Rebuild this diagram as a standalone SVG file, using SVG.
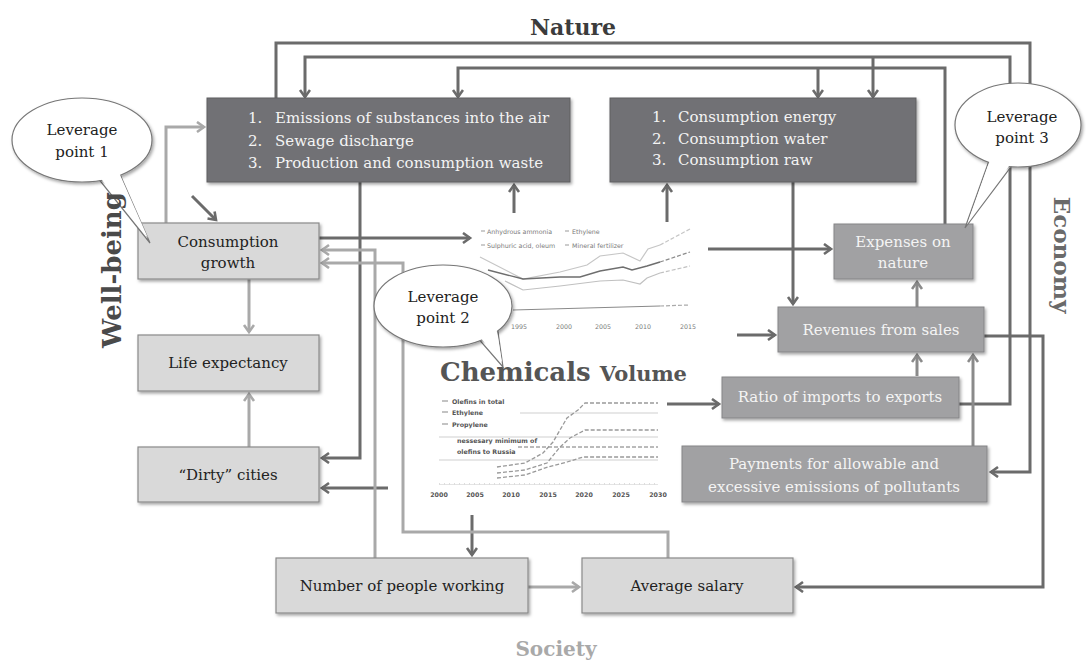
<svg xmlns="http://www.w3.org/2000/svg" width="1086" height="663" viewBox="0 0 1086 663">
<defs>
<style>
.dk{fill:none;stroke:#6b6b6b;stroke-width:3}
.md{fill:none;stroke:#8a8a8a;stroke-width:3}
.lt{fill:none;stroke:#a9a9a9;stroke-width:3}
.bxD{fill:#717174;stroke:#5e5e60;stroke-width:1}
.bxM{fill:#a1a1a3;stroke:#858587;stroke-width:1}
.bxL{fill:#d9d9d9;stroke:#8a8a8a;stroke-width:1.2}
.tw{font-family:"DejaVu Serif","Liberation Serif",serif;font-size:15px;fill:#f4f4f4}
.tb{font-family:"DejaVu Serif","Liberation Serif",serif;font-size:15px;fill:#222}
.c{text-anchor:middle}
.head{font-family:"DejaVu Serif","Liberation Serif",serif;font-weight:bold}
.bub{fill:#fff;stroke:#777;stroke-width:1.2}
.ch{font-family:"DejaVu Sans","Liberation Sans",sans-serif;font-size:6.3px;fill:#7a7a7a}
.chb{font-family:"DejaVu Sans","Liberation Sans",sans-serif;font-size:6.3px;font-weight:bold;fill:#555}
</style>
<filter id="sh" x="-10%" y="-10%" width="130%" height="140%"><feDropShadow dx="1.5" dy="2" stdDeviation="1.5" flood-color="#000" flood-opacity="0.35"/></filter>
<marker id="aD" markerUnits="userSpaceOnUse" markerWidth="14" markerHeight="14" refX="9" refY="6" orient="auto"><path d="M2,1 L9,6 L2,11" fill="none" stroke="#6b6b6b" stroke-width="2.6"/></marker>
<marker id="aM" markerUnits="userSpaceOnUse" markerWidth="14" markerHeight="14" refX="9" refY="6" orient="auto"><path d="M2,1 L9,6 L2,11" fill="none" stroke="#8a8a8a" stroke-width="2.6"/></marker>
<marker id="aL" markerUnits="userSpaceOnUse" markerWidth="14" markerHeight="14" refX="9" refY="6" orient="auto"><path d="M2,1 L9,6 L2,11" fill="none" stroke="#a9a9a9" stroke-width="2.6"/></marker>
</defs>
<rect width="1086" height="663" fill="#fff"/>

<!-- section labels -->
<text class="head" x="573" y="35" text-anchor="middle" font-size="22" fill="#3c3c3c">Nature</text>
<text class="head" transform="translate(1054,255) rotate(90)" text-anchor="middle" font-size="23" fill="#6a6a6a">Economy</text>
<text class="head" x="556" y="656" text-anchor="middle" font-size="20" fill="#a9a9a9">Society</text>

<!-- charts -->
<g id="chart1">
<path d="M481,231 h4 M565,231 h4 M481,245 h4 M565,245 h4" stroke="#999" stroke-width="1"/>
<text class="ch" x="487" y="233.5">Anhydrous ammonia</text>
<text class="ch" x="572" y="233.5">Ethylene</text>
<text class="ch" x="487" y="247.5">Sulphuric acid, oleum</text>
<text class="ch" x="572" y="247.5">Mineral fertilizer</text>
<polyline points="480,257 523,279 560,272 587,265 600,256 623,253 640,261 648,249 660,245" fill="none" stroke="#c6c6c6" stroke-width="1.2"/>
<polyline points="660,245 690,229" fill="none" stroke="#c6c6c6" stroke-width="1.2" stroke-dasharray="4 2"/>
<polyline points="488,270 523,279 560,277 580,277 600,271 623,267 632,270 647,266 660,262" fill="none" stroke="#6e6e6e" stroke-width="1.4"/>
<polyline points="660,262 690,252" fill="none" stroke="#8a8a8a" stroke-width="1.2" stroke-dasharray="4 2"/>
<polyline points="505,281 523,290 560,286 600,281 623,280 640,284 647,278 660,273" fill="none" stroke="#c0c0c0" stroke-width="1.2"/>
<polyline points="660,273 690,266" fill="none" stroke="#c0c0c0" stroke-width="1.2" stroke-dasharray="4 2"/>
<polyline points="513,310 660,306" fill="none" stroke="#8a8a8a" stroke-width="1.2"/>
<polyline points="660,306 690,305" fill="none" stroke="#aaa" stroke-width="1.2" stroke-dasharray="4 2"/>
<text class="ch" x="519" y="329" text-anchor="middle">1995</text>
<text class="ch" x="564" y="329" text-anchor="middle">2000</text>
<text class="ch" x="603" y="329" text-anchor="middle">2005</text>
<text class="ch" x="643" y="329" text-anchor="middle">2010</text>
<text class="ch" x="688" y="329" text-anchor="middle">2015</text>
</g>

<g id="chart2">
<text class="head" x="440" y="381" font-size="26" fill="#555">Chemicals <tspan font-size="21">Volume</tspan></text>
<path d="M442,401 h6 M442,412 h6 M442,424 h6" stroke="#888" stroke-width="1.2"/>
<text class="chb" x="452" y="403.5">Olefins in total</text>
<text class="chb" x="452" y="414.5">Ethylene</text>
<text class="chb" x="452" y="426.5">Propylene</text>
<path d="M520,413 H658 M439,437 H658 M439,460 H658" stroke="#cfcfcf" stroke-width="1"/>
<path d="M518,447 H658" stroke="#777" stroke-width="1" stroke-dasharray="4 2"/>
<text class="chb" x="457" y="443" fill="#666">nessesary minimum of</text>
<text class="chb" x="457" y="454" fill="#666">olefins to Russia</text>
<path d="M497,467 L525,463 L543,453 L553,442 L567,418 L578,410 L585,403 L658,403" fill="none" stroke="#999" stroke-width="1.3" stroke-dasharray="4 2"/>
<path d="M497,473 L525,470 L547,463 L560,447 L570,438 L585,430 L658,430" fill="none" stroke="#999" stroke-width="1.3" stroke-dasharray="4 2"/>
<path d="M497,478 L525,475 L548,467 L567,462 L583,457 L658,457" fill="none" stroke="#999" stroke-width="1.3" stroke-dasharray="4 2"/>
<path d="M439,484 H658" stroke="#bbb" stroke-width="1" stroke-dasharray="1 4"/>
<path d="M439,484.5 H658" stroke="#ddd" stroke-width="0.8"/>
<g class="chb" text-anchor="middle" fill="#555">
<text x="439" y="497">2000</text><text x="475" y="497">2005</text><text x="511" y="497">2010</text><text x="548" y="497">2015</text><text x="584" y="497">2020</text><text x="621" y="497">2025</text><text x="658" y="497">2030</text>
</g>
</g>

<!-- connectors -->
<g id="connectors">
<path class="dk" d="M276,98 V43 H1030 V472 H991" marker-end="url(#aD)"/>
<path class="dk" d="M959,404 H1010 V57 H305 V97" marker-end="url(#aD)"/>
<path class="dk" d="M873,57 V97" marker-end="url(#aD)"/>
<path class="dk" d="M945,224 V68 H458 V97" marker-end="url(#aD)"/>
<path class="dk" d="M818,68 V97" marker-end="url(#aD)"/>
<path class="dk" d="M360,182 V458 H322" marker-end="url(#aD)"/>
<path class="dk" d="M319,238 H470" marker-end="url(#aD)"/>
<path class="dk" d="M514,213 V185" marker-end="url(#aD)"/>
<path class="dk" d="M667,222 V185" marker-end="url(#aD)"/>
<path class="dk" d="M793,182 V304" marker-end="url(#aD)"/>
<path class="dk" d="M708,249 H831" marker-end="url(#aD)"/>
<path class="dk" d="M737,335 H775" marker-end="url(#aD)"/>
<path class="dk" d="M667,404 H719" marker-end="url(#aD)"/>
<path class="dk" d="M984,336 H1043 V587 H796" marker-end="url(#aD)"/>
<path class="dk" d="M192,196 L216,220" marker-end="url(#aD)"/>
<path class="dk" d="M388,488 H322" marker-end="url(#aD)"/>
<path class="dk" d="M472,515 V555" marker-end="url(#aD)"/>
<path class="md" d="M917,307 V282" marker-end="url(#aM)"/>
<path class="md" d="M917,376 V355" marker-end="url(#aM)"/>
<path class="md" d="M973,446 V355" marker-end="url(#aM)"/>
<path class="lt" d="M166,223 V127 H204" marker-end="url(#aL)"/>
<path class="lt" d="M249,279 V332" marker-end="url(#aL)"/>
<path class="lt" d="M249,447 V394" marker-end="url(#aL)"/>
<path class="lt" d="M375,558 V250 H322" marker-end="url(#aL)"/>
<path class="lt" d="M668,558 V532 H403 V263 H322" marker-end="url(#aL)"/>
<path class="lt" d="M528,587 H579" marker-end="url(#aL)"/>
</g>

<!-- nodes -->
<g id="emissions">
<rect class="bxD" x="207" y="98" width="363" height="84" filter="url(#sh)"/>
<text class="tw" x="248" y="123">1.</text><text class="tw" x="275" y="123">Emissions of substances into the air</text>
<text class="tw" x="248" y="146">2.</text><text class="tw" x="275" y="146">Sewage discharge</text>
<text class="tw" x="248" y="168">3.</text><text class="tw" x="275" y="168">Production and consumption waste</text>
</g>
<g id="consumption-res">
<rect class="bxD" x="610" y="98" width="306" height="84" filter="url(#sh)"/>
<text class="tw" x="652" y="122">1.</text><text class="tw" x="678" y="122">Consumption energy</text>
<text class="tw" x="652" y="144">2.</text><text class="tw" x="678" y="144">Consumption water</text>
<text class="tw" x="652" y="165">3.</text><text class="tw" x="678" y="165">Consumption raw</text>
</g>
<g id="consumption-growth">
<rect class="bxL" x="138" y="223" width="181" height="56" filter="url(#sh)"/>
<text class="tb c" x="228" y="247">Consumption</text>
<text class="tb c" x="228" y="268">growth</text>
</g>
<g id="life-expectancy">
<rect class="bxL" x="138" y="335" width="181" height="56" filter="url(#sh)"/>
<text class="tb c" x="228" y="368">Life expectancy</text>
</g>
<g id="dirty-cities">
<rect class="bxL" x="138" y="447" width="181" height="55" filter="url(#sh)"/>
<text class="tb c" x="228" y="480">“Dirty” cities</text>
</g>
<g id="people-working">
<rect class="bxL" x="276" y="558" width="252" height="55" filter="url(#sh)"/>
<text class="tb c" x="402" y="591">Number of people working</text>
</g>
<g id="average-salary">
<rect class="bxL" x="582" y="558" width="211" height="55" filter="url(#sh)"/>
<text class="tb c" x="687" y="591">Average salary</text>
</g>
<g id="expenses">
<rect class="bxM" x="834" y="224" width="139" height="55" filter="url(#sh)"/>
<text class="tw c" x="903" y="247">Expenses on</text>
<text class="tw c" x="903" y="268">nature</text>
</g>
<g id="revenues">
<rect class="bxM" x="778" y="307" width="206" height="45" filter="url(#sh)"/>
<text class="tw c" x="881" y="335">Revenues from sales</text>
</g>
<g id="ratio">
<rect class="bxM" x="722" y="377" width="237" height="41" filter="url(#sh)"/>
<text class="tw c" x="840" y="402">Ratio of imports to exports</text>
</g>
<g id="payments">
<rect class="bxM" x="682" y="446" width="305" height="56" filter="url(#sh)"/>
<text class="tw c" x="834" y="469">Payments for allowable and</text>
<text class="tw c" x="834" y="492">excessive emissions of pollutants</text>
</g>

<!-- callouts -->
<g id="leverage1">
<polygon class="bub" points="93,172 118,170 150,243"/>
<ellipse class="bub" cx="82" cy="140" rx="70" ry="42" filter="url(#sh)"/>
<polygon points="94,170 117,168 148,238" fill="#fff"/>
<text class="tb c" x="82" y="135">Leverage</text>
<text class="tb c" x="82" y="157">point 1</text>
</g>
<g id="leverage2">
<polygon class="bub" points="476,336 497,325 503,367"/>
<ellipse class="bub" cx="443" cy="306" rx="69" ry="41" filter="url(#sh)"/>
<polygon points="477,334 496,326 502,362" fill="#fff"/>
<text class="tb c" x="443" y="302">Leverage</text>
<text class="tb c" x="443" y="323">point 2</text>
</g>
<g id="leverage3">
<polygon class="bub" points="990,158 1013,164 965,228"/>
<ellipse class="bub" cx="1018" cy="125" rx="63" ry="42" filter="url(#sh)"/>
<polygon points="991,157 1012,162 968,222" fill="#fff"/>
<text class="tb c" x="1022" y="122">Leverage</text>
<text class="tb c" x="1022" y="143">point 3</text>
</g>

<text class="head" transform="translate(121,270) rotate(-90)" text-anchor="middle" font-size="26" fill="#4a4a4a">Well-being</text>
</svg>
